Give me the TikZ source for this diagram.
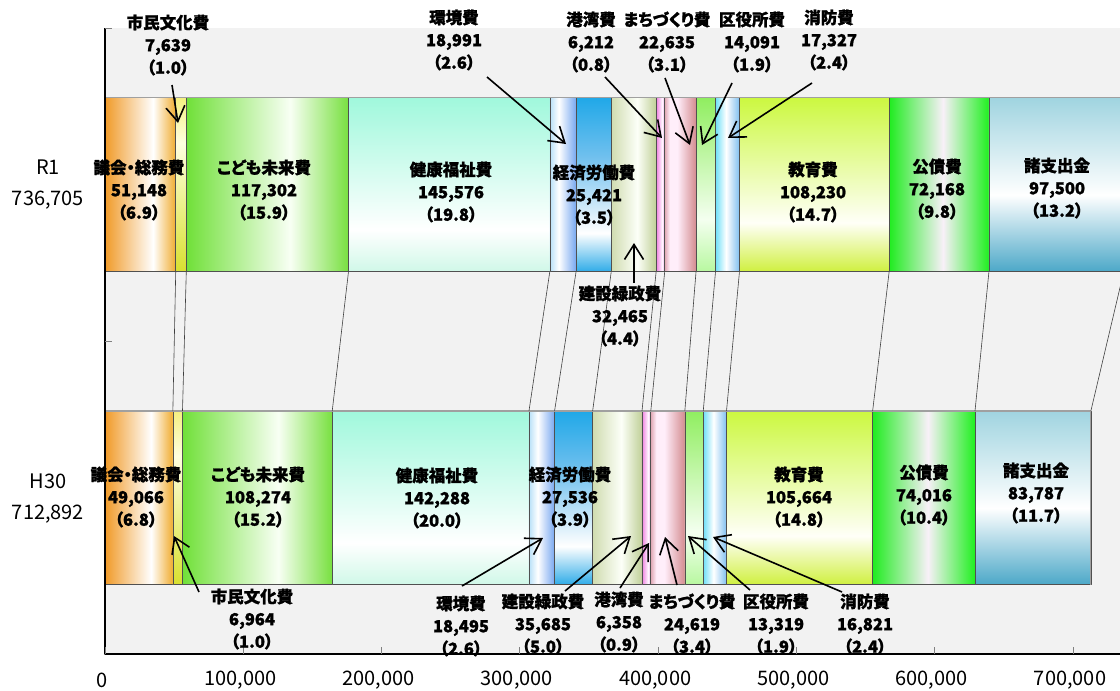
\documentclass[tikz,border=0pt]{standalone}
\usepackage{fontspec}
\setmainfont{Noto Sans CJK JP}[BoldFeatures={RawFeature=+palt, FakeBold=1.2}]
\usetikzlibrary{arrows.meta}

\definecolor{plotbg}{HTML}{F2F2F2}
\definecolor{segline}{HTML}{505050}
\definecolor{barline}{HTML}{A0A0A0}
% colours of the shaded segments
\definecolor{gkL}{HTML}{F09A28}\definecolor{gkR}{HTML}{F0AC30}
\definecolor{smT}{HTML}{F4F080}\definecolor{smM}{HTML}{FFFFE0}\definecolor{smB}{HTML}{D8E030}
\definecolor{kdL}{HTML}{70E038}\definecolor{kdM}{HTML}{F8FFF4}\definecolor{kdR}{HTML}{78E040}
\definecolor{kfT}{HTML}{A0F8DC}\definecolor{kfB}{HTML}{D0F8E8}
\definecolor{kkL}{HTML}{B8E0F8}\definecolor{kkR}{HTML}{78A8F0}
\definecolor{krT}{HTML}{20A8E8}\definecolor{krM}{HTML}{70C0EE}\definecolor{krB}{HTML}{30ACE8}
\definecolor{ksL}{HTML}{D0DCB0}\definecolor{ksM}{HTML}{FCFFF8}\definecolor{ksR}{HTML}{C0D098}
\definecolor{kwL}{HTML}{F080E0}\definecolor{kwM}{HTML}{FFF8FF}\definecolor{kwR}{HTML}{F0A0E8}
\definecolor{mcL}{HTML}{E0A8B4}\definecolor{mcM}{HTML}{FFEEFA}\definecolor{mcR}{HTML}{D48C90}
\definecolor{kyT}{HTML}{90EE60}\definecolor{kyM}{HTML}{F4FFF0}\definecolor{kyB}{HTML}{B8F8A0}
\definecolor{sbL}{HTML}{70E0F8}\definecolor{sbR}{HTML}{80C0F0}
\definecolor{edT}{HTML}{CCF840}\definecolor{edM}{HTML}{FFFFF8}\definecolor{edB}{HTML}{D0F040}
\definecolor{kbL}{HTML}{20EC20}\definecolor{kbM}{HTML}{F8F0F8}\definecolor{kbR}{HTML}{20F020}
\definecolor{ssT}{HTML}{A0D4E0}\definecolor{ssB}{HTML}{4CA8C8}

% visible part of each shading runs from 25bp to 75bp
\pgfdeclarehorizontalshading{gikai}{100bp}{color(0bp)=(gkL); color(25bp)=(gkL); color(59bp)=(white); color(75bp)=(gkR); color(100bp)=(gkR)}
\pgfdeclareverticalshading{shimin}{100bp}{color(0bp)=(smB); color(25bp)=(smB); color(62bp)=(smM); color(75bp)=(smT); color(100bp)=(smT)}
\pgfdeclarehorizontalshading{kodomo}{100bp}{color(0bp)=(kdL); color(25bp)=(kdL); color(57bp)=(kdM); color(75bp)=(kdR); color(100bp)=(kdR)}
\pgfdeclareverticalshading{kenko}{100bp}{color(0bp)=(kfB); color(25bp)=(kfB); color(37bp)=(white); color(75bp)=(kfT); color(100bp)=(kfT)}
\pgfdeclarehorizontalshading{kankyo}{100bp}{color(0bp)=(kkL); color(25bp)=(kkL); color(42bp)=(white); color(75bp)=(kkR); color(100bp)=(kkR)}
\pgfdeclareverticalshading{keizai}{100bp}{color(0bp)=(krB); color(25bp)=(krB); color(36bp)=(white); color(58bp)=(krM); color(75bp)=(krT); color(100bp)=(krT)}
\pgfdeclarehorizontalshading{kensetsu}{100bp}{color(0bp)=(ksL); color(25bp)=(ksL); color(54bp)=(ksM); color(75bp)=(ksR); color(100bp)=(ksR)}
\pgfdeclarehorizontalshading{kowan}{100bp}{color(0bp)=(kwL); color(25bp)=(kwL); color(60bp)=(kwM); color(75bp)=(kwR); color(100bp)=(kwR)}
\pgfdeclarehorizontalshading{machi}{100bp}{color(0bp)=(mcL); color(25bp)=(mcL); color(33bp)=(mcM); color(45bp)=(mcM); color(75bp)=(mcR); color(100bp)=(mcR)}
\pgfdeclareverticalshading{kuyaku}{100bp}{color(0bp)=(kyB); color(25bp)=(kyB); color(40bp)=(kyM); color(75bp)=(kyT); color(100bp)=(kyT)}
\pgfdeclarehorizontalshading{shobo}{100bp}{color(0bp)=(sbL); color(25bp)=(sbL); color(47bp)=(white); color(75bp)=(sbR); color(100bp)=(sbR)}
\pgfdeclareverticalshading{kyoiku}{100bp}{color(0bp)=(edB); color(25bp)=(edB); color(39bp)=(edM); color(75bp)=(edT); color(100bp)=(edT)}
\pgfdeclarehorizontalshading{kosai}{100bp}{color(0bp)=(kbL); color(25bp)=(kbL); color(52bp)=(kbM); color(75bp)=(kbR); color(100bp)=(kbR)}
\pgfdeclareverticalshading{shoshi}{100bp}{color(0bp)=(ssB); color(25bp)=(ssB); color(47bp)=(white); color(75bp)=(ssT); color(100bp)=(ssT)}

\tikzset{
  seg/.style={draw=segline, line width=0.6pt},
  link/.style={draw=black!75, line width=0.6pt},
  lab/.style={font=\bfseries\fontsize{16.5}{22.5}\selectfont, align=center, inner sep=0pt},
  side/.style={font=\fontsize{20}{31}\selectfont, align=center, inner sep=0pt},
  xlab/.style={font=\fontsize{20}{24}\selectfont, inner sep=0pt},
  arr/.style={-{Straight Barb[length=15pt,width=19pt]}, line width=1.6pt},
}

\begin{document}
\begin{tikzpicture}[x=1pt,y=-1pt,line join=round]
  \def \xo{105}   % x of the value 0
  \def \sc{1.3829} % px per 1,000
  \def \ra{97.5}  \def \rb{271.5} % R1 bar
  \def \ha{411}   \def \hb{584.5} % H30 bar
  \useasboundingbox (0,0) rectangle (1120,691);
  \clip (0,0) rectangle (1120,691);
  \fill[plotbg] (\xo,28) rectangle (1125,654);

  % R1 bar
  \foreach \a/\b/\s [count=\i] in {0/51.148/gikai,51.148/58.787/shimin,58.787/176.089/kodomo,176.089/321.665/kenko,321.665/340.656/kankyo,340.656/366.077/keizai,366.077/398.542/kensetsu,398.542/404.754/kowan,404.754/427.389/machi,427.389/441.480/kuyaku,441.480/458.807/shobo,458.807/567.037/kyoiku,567.037/639.205/kosai,639.205/736.705/shoshi}
  {
    \shade[shading=\s, seg] ({\xo+\a*\sc},\ra) rectangle ({\xo+\b*\sc},\rb);
    \coordinate (r\i) at ({\xo+\b*\sc},\rb);
  }
  \draw[barline, line width=1.2pt] (\xo,\ra) -- ({\xo+736.705*\sc},\ra);

  % H30 bar
  \foreach \a/\b/\s [count=\i] in {0/49.066/gikai,49.066/56.030/shimin,56.030/164.304/kodomo,164.304/306.592/kenko,306.592/325.087/kankyo,325.087/352.623/keizai,352.623/388.308/kensetsu,388.308/394.666/kowan,394.666/419.285/machi,419.285/432.604/kuyaku,432.604/449.425/shobo,449.425/555.089/kyoiku,555.089/629.105/kosai,629.105/712.892/shoshi}
  {
    \shade[shading=\s, seg] ({\xo+\a*\sc},\ha) rectangle ({\xo+\b*\sc},\hb);
    \coordinate (h\i) at ({\xo+\a*\sc},\ha);
    \coordinate (he) at ({\xo+\b*\sc},\ha);
  }
  \draw[barline, line width=1.2pt] (\xo,\ha) -- (he) -- ({\xo+712.892*\sc},\hb);

  % lines between the two bars
  \foreach \i [evaluate=\i as \j using int(\i+1)] in {1,...,13}
  {
    \draw[link] (r\i) -- (h\j);
  }
  \draw[link] (r14) -- (he);

  % axes
  \draw[black, line width=1.2pt] (\xo,28) -- (\xo,654) -- (1125,654);
  \foreach \y in {28,341}
  {
    \draw[gray, line width=0.8pt] (\xo,\y) -- (\xo+7,\y);
  }
  \foreach \k in {0,...,7}
  {
    \draw[gray, line width=0.8pt] ({\xo+\k*100*\sc},647) -- ({\xo+\k*100*\sc},654);
    \node[xlab] (x\k) at ({\xo-3+\k*100*\sc},680) {\ifnum\k=0 0\else\k00,000\fi};
  }
  \node[side] (r1) at (48,185) {R1\\736,705};
  \node[side] (h30) at (48,499) {H30\\712,892};

  % labels, R1
  \node[lab] (r1gikai) at (139,190) {議会・総務費\\51,148\\（6.9）};
  \node[lab] (r1kodomo) at (264,190) {こども未来費\\117,302\\（15.9）};
  \node[lab] (r1kenko) at (451,192) {健康福祉費\\145,576\\（19.8）};
  \node[lab] (r1keizai) at (594,195) {経済労働費\\25,421\\（3.5）};
  \node[lab] (r1kyoiku) at (813,192) {教育費\\108,230\\（14.7）};
  \node[lab] (r1kosai) at (937,189) {公債費\\72,168\\（9.8）};
  \node[lab] (r1shoshi) at (1057,188) {諸支出金\\97,500\\（13.2）};
  \node[lab] (r1shimin) at (168,45) {市民文化費\\7,639\\（1.0）};
  \node[lab] (r1kankyo) at (454,40) {環境費\\18,991\\（2.6）};
  \node[lab] (r1kowan) at (591,42) {港湾費\\6,212\\（0.8）};
  \node[lab] (r1machi) at (667,42) {まちづくり費\\22,635\\（3.1）};
  \node[lab] (r1kuyaku) at (752,42) {区役所費\\14,091\\（1.9）};
  \node[lab] (r1shobo) at (829,40) {消防費\\17,327\\（2.4）};
  \node[lab] (r1kensetsu) at (620,316) {建設緑政費\\32,465\\（4.4）};

  % labels, H30
  \node[lab] (h30gikai) at (136,497) {議会・総務費\\49,066\\（6.8）};
  \node[lab] (h30kodomo) at (258,497) {こども未来費\\108,274\\（15.2）};
  \node[lab] (h30kenko) at (437,498) {健康福祉費\\142,288\\（20.0）};
  \node[lab] (h30keizai) at (570,497) {経済労働費\\27,536\\（3.9）};
  \node[lab] (h30kyoiku) at (799,497) {教育費\\105,664\\（14.8）};
  \node[lab] (h30kosai) at (924,495) {公債費\\74,016\\（10.4）};
  \node[lab] (h30shoshi) at (1036,493) {諸支出金\\83,787\\（11.7）};
  \node[lab] (h30shimin) at (252,619) {市民文化費\\6,964\\（1.0）};
  \node[lab] (h30kankyo) at (461,626) {環境費\\18,495\\（2.6）};
  \node[lab] (h30kensetsu) at (543,624) {建設緑政費\\35,685\\（5.0）};
  \node[lab] (h30kowan) at (619,622) {港湾費\\6,358\\（0.9）};
  \node[lab] (h30machi) at (692,624) {まちづくり費\\24,619\\（3.4）};
  \node[lab] (h30kuyaku) at (776,624) {区役所費\\13,319\\（1.9）};
  \node[lab] (h30shobo) at (865,624) {消防費\\16,821\\（2.4）};

  % arrows
  \foreach \n/\p/\q in {r1shimin/{172,85}/{178,123}, r1kankyo/{487,77}/{566,144}, r1kowan/{605,77}/{662,138}, r1machi/{665,78}/{690,145}, r1kuyaku/{732,83}/{702,145}, r1shobo/{812,83}/{728,138}, r1kensetsu/{634,283}/{634,243}, h30shimin/{199,592}/{174,536}, h30kankyo/{462,586}/{543,538}, h30kensetsu/{565,591}/{631,536}, h30kowan/{620,588}/{649,543}, h30machi/{677,585}/{665,537}, h30kuyaku/{750,590}/{688,536}, h30shobo/{842,592}/{713,537}}
  {
    \coordinate (\n-a) at (\p);
    \coordinate (\n-b) at (\q);
    \draw[arr] (\n-a) -- (\n-b);
  }
\end{tikzpicture}
\end{document}
